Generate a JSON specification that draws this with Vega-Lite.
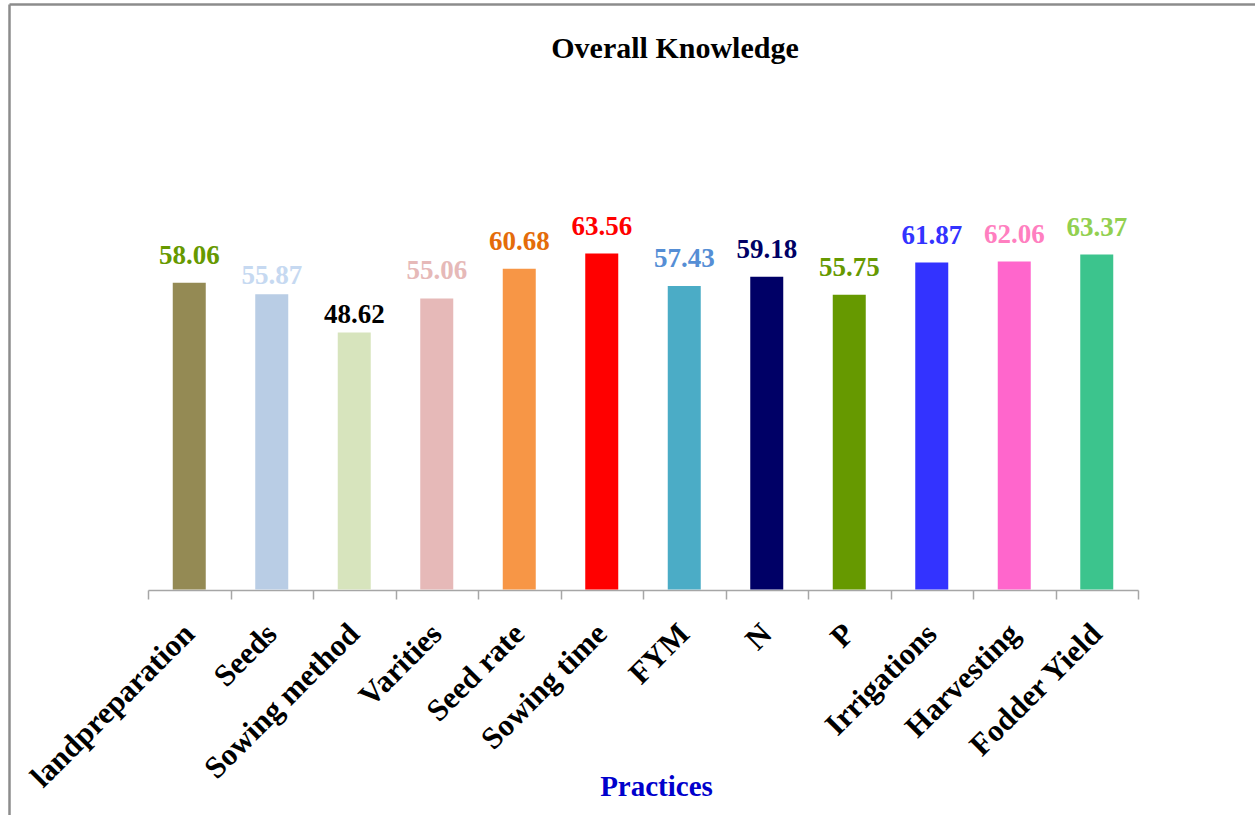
{
  "$schema": "https://vega.github.io/schema/vega-lite/v6.json",
  "width": 1246,
  "height": 811,
  "autosize": {"type": "none"},
  "padding": {"left": 9, "top": 4, "right": 0, "bottom": 0},
  "background": "white",
  "title": {
    "text": "Overall Knowledge",
    "frame": "group",
    "anchor": "middle",
    "orient": "top",
    "offset": -84,
    "baseline": "alphabetic",
    "dx": 43,
    "font": "Liberation Serif",
    "fontSize": 30,
    "fontWeight": "bold",
    "color": "black"
  },
  "config": {"view": {"stroke": null}, "font": "Liberation Serif"},
  "data": {
    "values": [
      {"practice": "landpreparation", "value": 58.06},
      {"practice": "Seeds", "value": 55.87},
      {"practice": "Sowing method", "value": 48.62},
      {"practice": "Varities", "value": 55.06},
      {"practice": "Seed rate", "value": 60.68},
      {"practice": "Sowing time", "value": 63.56},
      {"practice": "FYM", "value": 57.43},
      {"practice": "N", "value": 59.18},
      {"practice": "P", "value": 55.75},
      {"practice": "Irrigations", "value": 61.87},
      {"practice": "Harvesting", "value": 62.06},
      {"practice": "Fodder Yield", "value": 63.37}
    ]
  },
  "resolve": {
    "axis": {"x": "independent", "y": "independent"},
    "scale": {"color": "independent", "x": "independent"}
  },
  "layer": [
    {
      "mark": {"type": "point", "opacity": 0},
      "encoding": {
        "x": {
          "field": "practice",
          "type": "nominal",
          "sort": null,
          "axis": {"orient": "top", "domain": true, "domainColor": "#8c8c8c", "domainWidth": 2.5, "ticks": false, "labels": false, "title": null, "grid": false}
        },
        "y": {
          "field": "value",
          "type": "quantitative",
          "scale": {"domain": [-42.7, 110.8], "nice": false, "zero": false},
          "axis": {"orient": "left", "domain": true, "domainColor": "#8c8c8c", "domainWidth": 2.5, "grid": false, "ticks": false, "labels": false, "title": null}
        }
      }
    },
    {
      "mark": {"type": "bar", "width": {"band": 0.4}},
      "encoding": {
        "x": {
          "field": "practice",
          "type": "nominal",
          "sort": null,
          "scale": {"type": "band", "domain": ["landpreparation", "Seeds", "Sowing method", "Varities", "Seed rate", "Sowing time", "FYM", "N", "P", "Irrigations", "Harvesting", "Fodder Yield"], "range": [139, 1129], "paddingInner": 0, "paddingOuter": 0},
          "axis": {
            "orient": "bottom",
            "offset": -225,
            "domain": true,
            "domainColor": "#a6a6a6",
            "domainWidth": 1.5,
            "ticks": true,
            "tickBand": "extent",
            "tickColor": "#a6a6a6",
            "tickSize": 9,
            "tickWidth": 1.5,
            "grid": false,
            "labelAngle": -45,
            "labelAlign": "right",
            "labelBaseline": "middle",
            "labelPadding": 30,
            "labelFont": "Liberation Serif",
            "labelFontSize": 31,
            "labelFontWeight": "bold",
            "labelColor": "black",
            "labelOverlap": false,
            "labelBound": false,
            "labelLimit": 0,
            "title": "Practices",
            "titleFont": "Liberation Serif",
            "titleFontSize": 29,
            "titleFontWeight": "bold",
            "titleColor": "#0000CC",
            "titleX": 647,
            "titleY": 205,
            "titleAnchor": null,
            "titleAlign": "center",
            "titleBaseline": "alphabetic"
          }
        },
        "y": {"field": "value", "type": "quantitative", "axis": null},
        "y2": {"datum": 0},
        "color": {
          "field": "practice",
          "type": "nominal",
          "sort": null,
          "legend": null,
          "scale": {
            "domain": ["landpreparation", "Seeds", "Sowing method", "Varities", "Seed rate", "Sowing time", "FYM", "N", "P", "Irrigations", "Harvesting", "Fodder Yield"],
            "range": ["#948A54", "#B9CDE5", "#D7E4BD", "#E6B9B8", "#F79646", "#FF0000", "#4BACC6", "#000066", "#669900", "#3333FF", "#FF66CC", "#3CC48D"]
          }
        }
      }
    },
    {
      "transform": [{"filter": "datum.practice !== 'Seeds' && datum.practice !== 'Sowing method'"}],
      "mark": {"type": "text", "dy": -19, "baseline": "alphabetic", "align": "center", "fontSize": 27, "fontWeight": "bold", "font": "Liberation Serif"},
      "encoding": {
        "x": {"field": "practice", "type": "nominal", "sort": null, "scale": {"type": "band", "domain": ["landpreparation", "Seeds", "Sowing method", "Varities", "Seed rate", "Sowing time", "FYM", "N", "P", "Irrigations", "Harvesting", "Fodder Yield"], "range": [139, 1129], "paddingInner": 0, "paddingOuter": 0}, "axis": null},
        "y": {"field": "value", "type": "quantitative", "axis": null},
        "text": {"field": "value", "type": "quantitative", "format": ".2f"},
        "color": {
          "field": "practice",
          "type": "nominal",
          "sort": null,
          "legend": null,
          "scale": {
            "domain": ["landpreparation", "Seeds", "Sowing method", "Varities", "Seed rate", "Sowing time", "FYM", "N", "P", "Irrigations", "Harvesting", "Fodder Yield"],
            "range": ["#669900", "#C6D9F1", "#000000", "#E6B9B8", "#E46C0A", "#FF0000", "#558ED5", "#000066", "#669900", "#3333FF", "#FF7FC0", "#92D050"]
          }
        }
      }
    },
    {
      "transform": [{"filter": "datum.practice === 'Seeds' || datum.practice === 'Sowing method'"}],
      "mark": {"type": "text", "dy": -10, "baseline": "alphabetic", "align": "center", "fontSize": 27, "fontWeight": "bold", "font": "Liberation Serif"},
      "encoding": {
        "x": {"field": "practice", "type": "nominal", "sort": null, "scale": {"type": "band", "domain": ["landpreparation", "Seeds", "Sowing method", "Varities", "Seed rate", "Sowing time", "FYM", "N", "P", "Irrigations", "Harvesting", "Fodder Yield"], "range": [139, 1129], "paddingInner": 0, "paddingOuter": 0}, "axis": null},
        "y": {"field": "value", "type": "quantitative", "axis": null},
        "text": {"field": "value", "type": "quantitative", "format": ".2f"},
        "color": {
          "field": "practice",
          "type": "nominal",
          "sort": null,
          "legend": null,
          "scale": {
            "domain": ["landpreparation", "Seeds", "Sowing method", "Varities", "Seed rate", "Sowing time", "FYM", "N", "P", "Irrigations", "Harvesting", "Fodder Yield"],
            "range": ["#669900", "#C6D9F1", "#000000", "#E6B9B8", "#E46C0A", "#FF0000", "#558ED5", "#000066", "#669900", "#3333FF", "#FF7FC0", "#92D050"]
          }
        }
      }
    }
  ]
}
